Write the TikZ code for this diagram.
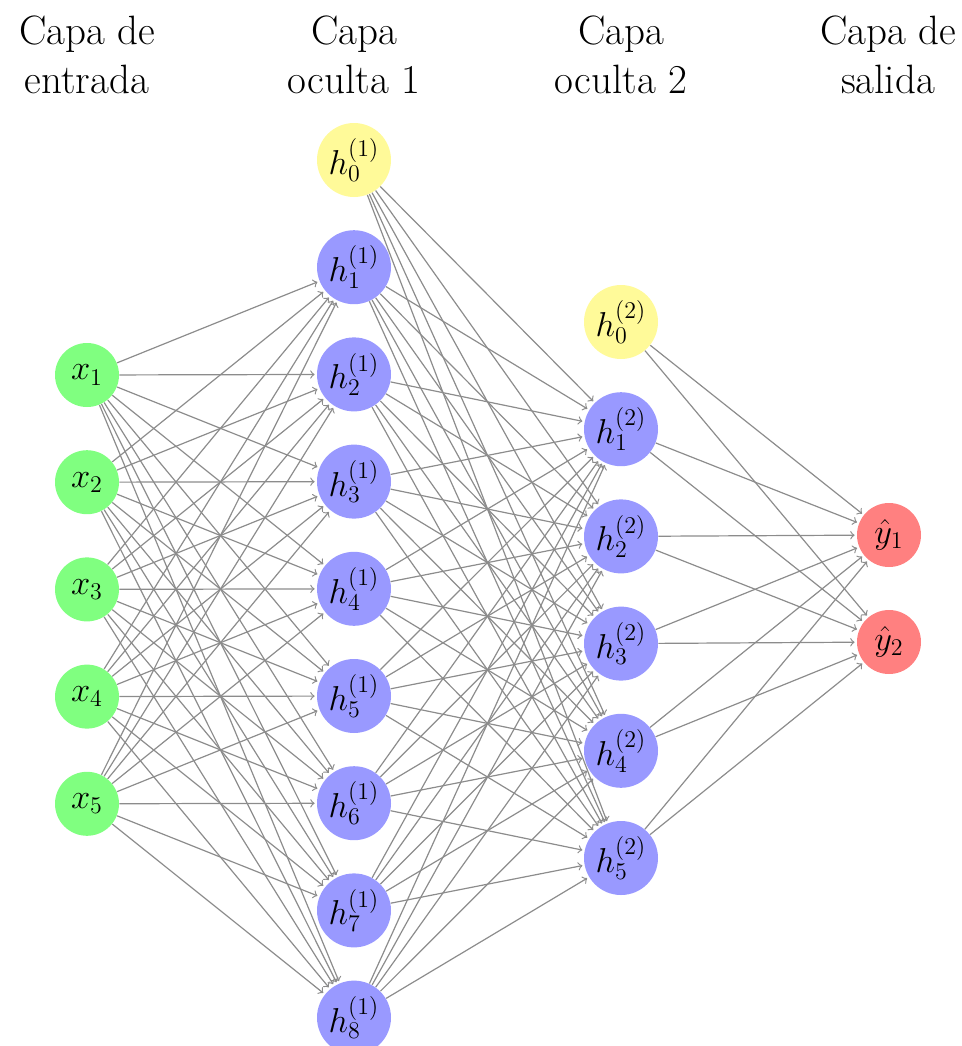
\documentclass[tikz,border=0pt]{standalone}
\begin{document}
\begin{tikzpicture}[x=0.5pt,y=-0.5pt,
  neuron/.style={circle, inner sep=0pt, font=\fontsize{17.5}{21}\selectfont},
  inneuron/.style={neuron, fill=green!50, minimum size=32pt},
  hidneuron/.style={neuron, fill=blue!40, minimum size=37pt},
  biasneuron/.style={neuron, fill=yellow!40, minimum size=37pt},
  outneuron/.style={neuron, fill=red!50, minimum size=32pt},
  link/.style={->, draw=black!45, line width=0.6pt, shorten >=1pt},
  title/.style={align=center, anchor=north, inner sep=0pt,
    font=\fontsize{20.5}{24.5}\selectfont}]
\useasboundingbox (0,0) rectangle (962,1046);

% layer titles
\node[title] (t1) at (87,15)  {Capa de\\entrada};
\node[title] (t2) at (354,15) {Capa\\oculta 1};
\node[title] (t3) at (621,15) {Capa\\oculta 2};
\node[title] (t4) at (888,15) {Capa de\\salida};

% input layer
\foreach \i in {1,...,5}
  \node[inneuron] (x\i) at (87,{375+(\i-1)*107.2}) {$x_{\i}$};

% first hidden layer
\node[biasneuron] (a0) at (354,160) {$h_0^{(1)}$};
\foreach \i in {1,...,8}
  \node[hidneuron] (a\i) at (354,{160+\i*107.2}) {$h_{\i}^{(1)}$};

% second hidden layer
\node[biasneuron] (b0) at (621,322) {$h_0^{(2)}$};
\foreach \i in {1,...,5}
  \node[hidneuron] (b\i) at (621,{322+\i*107.2}) {$h_{\i}^{(2)}$};

% output layer
\node[outneuron] (y1) at (889,535) {$\hat{y}_1$};
\node[outneuron] (y2) at (889,642) {$\hat{y}_2$};

% connections
\foreach \i in {1,...,5}
  \foreach \j in {1,...,8}
    \draw[link] (x\i) -- (a\j);
\foreach \i in {0,...,8}
  \foreach \j in {1,...,5}
    \draw[link] (a\i) -- (b\j);
\foreach \i in {0,...,5}
  \foreach \j in {1,2}
    \draw[link] (b\i) -- (y\j);
\end{tikzpicture}
\end{document}
